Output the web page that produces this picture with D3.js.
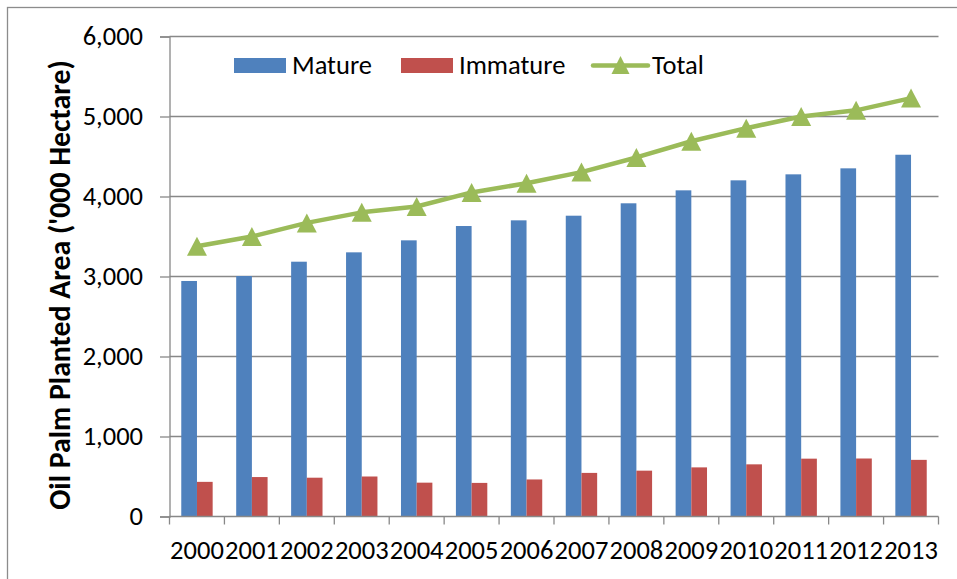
<!DOCTYPE html>
<html>
<head>
<meta charset="utf-8">
<script src="https://cdn.jsdelivr.net/npm/d3@7"></script>
<style>
  html, body { margin: 0; padding: 0; background: #fff; }
  svg { display: block; }
  text { font-family: Calibri, Carlito, "Liberation Sans", Arial, sans-serif; fill: #000; }
</style>
</head>
<body>
<svg id="chart" width="957" height="579"></svg>
<script>
// Oil palm planted area, thousand hectares
const years = ["2000","2001","2002","2003","2004","2005","2006","2007","2008","2009","2010","2011","2012","2013"];
const mature = [2944, 3006, 3185, 3302, 3452, 3631, 3702, 3760, 3915, 4077, 4202, 4277, 4352, 4522];
const immature = [433, 493, 485, 500, 423, 420, 463, 545, 573, 614, 652, 723, 725, 708];
const total = [3377, 3499, 3670, 3802, 3875, 4051, 4165, 4305, 4488, 4691, 4854, 5000, 5077, 5230];
const yTicks = [0, 1000, 2000, 3000, 4000, 5000, 6000];
const seriesNames = ["Mature", "Immature", "Total"];
const colors = { Mature: "#4F81BD", Immature: "#C0504D", Total: "#9BBB59" };

const svg = d3.select("#chart");
const plot = { left: 169.5, right: 938.5, top: 36.5, bottom: 516.5 };
const gridColor = "#888888";
const fontSize = 26.5;

// outer chart frame
svg.append("rect")
  .attr("x", 7.5).attr("y", 7.5)
  .attr("width", 1000).attr("height", 1000)
  .attr("fill", "none").attr("stroke", "#8c8c8c").attr("stroke-width", 1.3);

const x = d3.scaleBand().domain(years).range([plot.left, plot.right]).paddingInner(0).paddingOuter(0);
const y = d3.scaleLinear().domain([0, 6000]).range([plot.bottom, plot.top]);

// horizontal gridlines
svg.append("g").selectAll("line")
  .data(yTicks.filter(d => d > 0))
  .join("line")
  .attr("x1", plot.left).attr("x2", plot.right)
  .attr("y1", d => y(d)).attr("y2", d => y(d))
  .attr("stroke", gridColor).attr("stroke-width", 1.3);

// y axis
const yAxis = svg.append("g")
  .attr("transform", `translate(${plot.left},0)`)
  .call(d3.axisLeft(y).tickValues(yTicks).tickSize(9.5).tickPadding(17).tickFormat(d3.format(",")));
yAxis.select(".domain").attr("stroke", gridColor).attr("stroke-width", 1.3);
yAxis.selectAll(".tick line").attr("stroke", gridColor).attr("stroke-width", 1.3);
yAxis.selectAll(".tick text")
  .attr("font-size", fontSize).attr("font-family", null).attr("fill", "#000");

// bars: gap width ~150% of one bar
const nBars = 2;
const barW = x.bandwidth() / (nBars + 1.5);
const groupOff = (x.bandwidth() - nBars * barW) / 2;

const barSeries = [
  { name: "Mature", values: mature },
  { name: "Immature", values: immature }
];
barSeries.forEach((s, i) => {
  svg.append("g").selectAll("rect")
    .data(s.values.map((v, j) => ({ year: years[j], v })))
    .join("rect")
    .attr("x", d => x(d.year) + groupOff + i * barW)
    .attr("width", barW)
    .attr("y", d => y(d.v))
    .attr("height", d => y(0) - y(d.v))
    .attr("fill", colors[s.name]);
});

// x axis with ticks at category boundaries
svg.append("line")
  .attr("x1", plot.left).attr("x2", plot.right)
  .attr("y1", plot.bottom).attr("y2", plot.bottom)
  .attr("stroke", gridColor).attr("stroke-width", 1.3);
const boundaries = years.map(d => x(d)).concat([x(years[years.length - 1]) + x.bandwidth()]);
svg.append("g").selectAll("line")
  .data(boundaries)
  .join("line")
  .attr("x1", d => d).attr("x2", d => d)
  .attr("y1", plot.bottom).attr("y2", plot.bottom + 8)
  .attr("stroke", gridColor).attr("stroke-width", 1.3);
svg.append("g").selectAll("text")
  .data(years)
  .join("text")
  .attr("x", d => x(d) + x.bandwidth() / 2)
  .attr("y", 558.5)
  .attr("text-anchor", "middle")
  .attr("font-size", fontSize)
  .text(d => d);

// total line with triangle markers
const lineGen = d3.line()
  .x((d, i) => x(years[i]) + x.bandwidth() / 2)
  .y(d => y(d));
svg.append("path")
  .datum(total)
  .attr("d", lineGen)
  .attr("fill", "none")
  .attr("stroke", colors.Total)
  .attr("stroke-width", 4.5)
  .attr("stroke-linejoin", "round")
  .attr("stroke-linecap", "round");

function triangle(cx, cy, w, h) {
  return `M${cx},${cy - h / 2}L${cx + w / 2},${cy + h / 2}L${cx - w / 2},${cy + h / 2}Z`;
}
svg.append("g").selectAll("path")
  .data(total)
  .join("path")
  .attr("d", (d, i) => triangle(x(years[i]) + x.bandwidth() / 2, y(d), 20, 19))
  .attr("fill", colors.Total);

// legend
const legend = svg.append("g");
const legendItems = [
  { name: seriesNames[0], x: 234 },
  { name: seriesNames[1], x: 401 },
  { name: seriesNames[2], x: 593 }
];
legendItems.forEach(item => {
  if (item.name === "Total") {
    legend.append("line")
      .attr("x1", item.x).attr("x2", item.x + 55)
      .attr("y1", 65.5).attr("y2", 65.5)
      .attr("stroke", colors.Total).attr("stroke-width", 4.5)
      .attr("stroke-linecap", "round");
    legend.append("path")
      .attr("d", triangle(item.x + 27.5, 65, 18, 18))
      .attr("fill", colors.Total);
    legend.append("text")
      .attr("x", item.x + 59).attr("y", 73.5)
      .attr("font-size", fontSize).text(item.name);
  } else {
    legend.append("rect")
      .attr("x", item.x).attr("y", 58)
      .attr("width", 52).attr("height", 15)
      .attr("fill", colors[item.name]);
    legend.append("text")
      .attr("x", item.x + 58).attr("y", 73.5)
      .attr("font-size", fontSize).text(item.name);
  }
});

// y axis title, fitted to the plot height
const title = svg.append("text")
  .attr("transform", "translate(70,285) rotate(-90)")
  .attr("text-anchor", "middle")
  .attr("font-weight", "bold")
  .attr("font-size", 22)
  .text("Oil Palm Planted Area ('000 Hectare)");
const tl = title.node().getComputedTextLength();
if (tl > 0) title.attr("font-size", 22 * 450 / tl);
</script>
</body>
</html>
